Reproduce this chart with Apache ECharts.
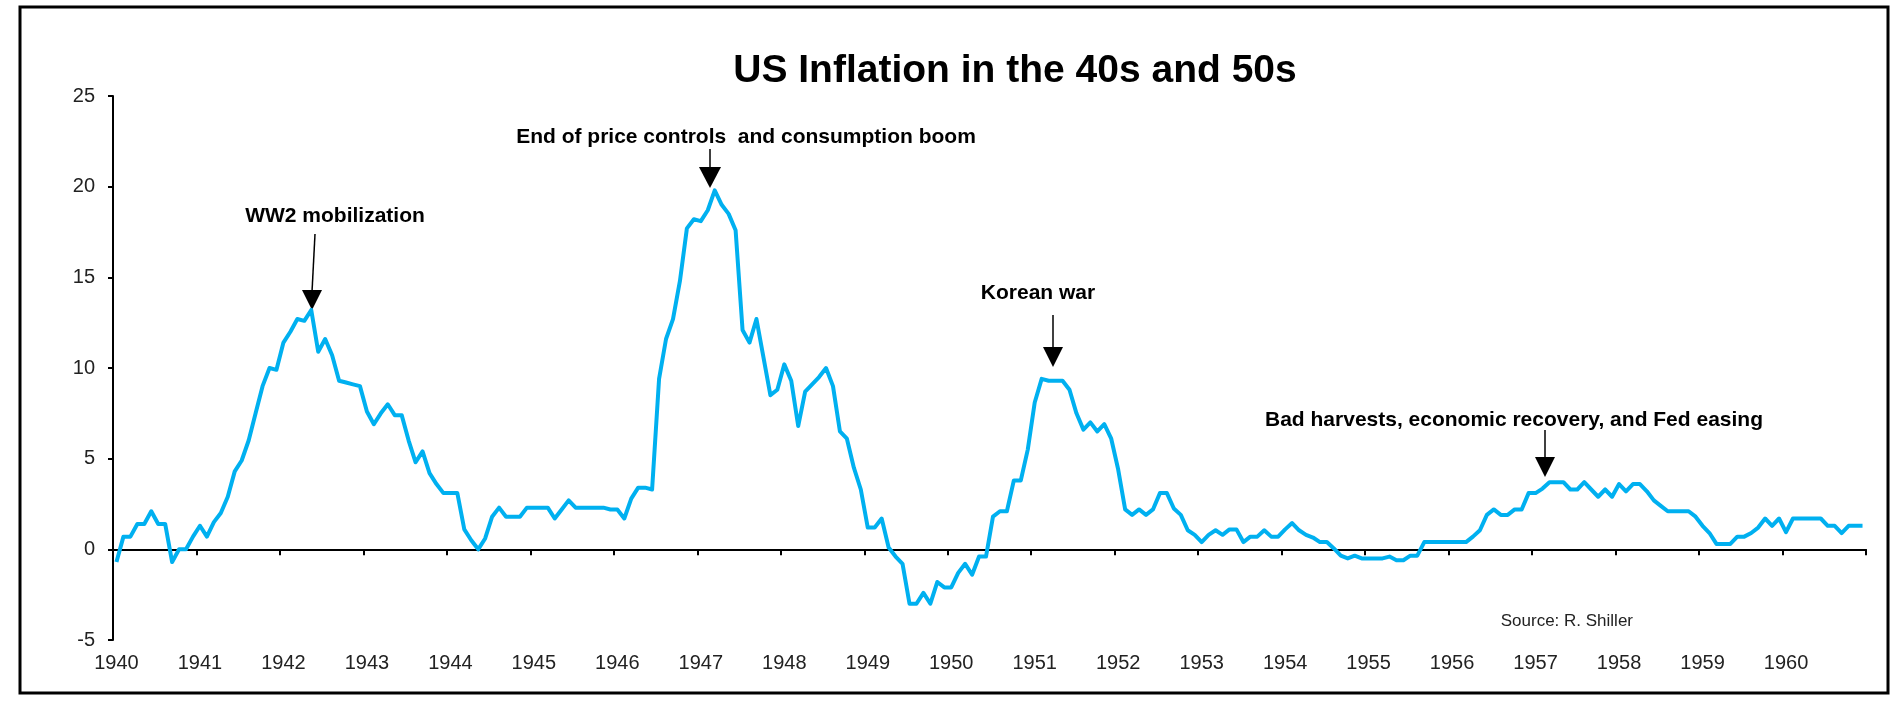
<!DOCTYPE html>
<html>
<head>
<meta charset="utf-8">
<script src="https://cdn.jsdelivr.net/npm/echarts@6/dist/echarts.min.js"></script>
<style>
html,body{margin:0;padding:0;background:#fff;}
#chart{width:1904px;height:708px;}
</style>
</head>
<body>
<div id="chart"></div>
<script>
// Year tick labels (one category per month, Jan 1940 .. Dec 1960)
const years = ['1940','1941','1942','1943','1944','1945','1946','1947','1948','1949','1950',
               '1951','1952','1953','1954','1955','1956','1957','1958','1959','1960'];

// Y axis ticks
const yMin = -5, yMax = 25, yStep = 5;

// Monthly US inflation (%), year by year
const inflation = [
  // 1940
  -0.7, 0.7, 0.7, 1.4, 1.4, 2.1, 1.4, 1.4, -0.7, 0.0, 0.0, 0.7,
  // 1941
  1.3, 0.7, 1.5, 2.0, 2.9, 4.3, 4.9, 6.0, 7.5, 9.0, 10.0, 9.9,
  // 1942
  11.4, 12.0, 12.7, 12.6, 13.2, 10.9, 11.6, 10.7, 9.3, 9.2, 9.1, 9.0,
  // 1943
  7.6, 6.9, 7.5, 8.0, 7.4, 7.4, 6.0, 4.8, 5.4, 4.2, 3.6, 3.1,
  // 1944
  3.1, 3.1, 1.1, 0.5, 0.0, 0.6, 1.8, 2.3, 1.8, 1.8, 1.8, 2.3,
  // 1945
  2.3, 2.3, 2.3, 1.7, 2.2, 2.7, 2.3, 2.3, 2.3, 2.3, 2.3, 2.2,
  // 1946
  2.2, 1.7, 2.8, 3.4, 3.4, 3.3, 9.4, 11.6, 12.7, 14.8, 17.7, 18.2,
  // 1947
  18.1, 18.7, 19.8, 19.0, 18.5, 17.6, 12.1, 11.4, 12.7, 10.6, 8.5, 8.8,
  // 1948
  10.2, 9.3, 6.8, 8.7, 9.1, 9.5, 10.0, 9.0, 6.5, 6.1, 4.5, 3.3,
  // 1949
  1.2, 1.2, 1.7, 0.1, -0.4, -0.8, -3.0, -3.0, -2.4, -3.0, -1.8, -2.1,
  // 1950
  -2.1, -1.3, -0.8, -1.4, -0.4, -0.4, 1.8, 2.1, 2.1, 3.8, 3.8, 5.5,
  // 1951
  8.1, 9.4, 9.3, 9.3, 9.3, 8.8, 7.5, 6.6, 7.0, 6.5, 6.9, 6.1,
  // 1952
  4.4, 2.2, 1.9, 2.2, 1.9, 2.2, 3.1, 3.1, 2.25, 1.9, 1.05, 0.8,
  // 1953
  0.4, 0.8, 1.05, 0.8, 1.1, 1.1, 0.4, 0.7, 0.7, 1.05, 0.7, 0.7,
  // 1954
  1.1, 1.45, 1.05, 0.8, 0.65, 0.4, 0.4, 0.05, -0.35, -0.5, -0.35, -0.5,
  // 1955
  -0.5, -0.5, -0.5, -0.4, -0.6, -0.6, -0.35, -0.35, 0.4, 0.4, 0.4, 0.4,
  // 1956
  0.4, 0.4, 0.4, 0.7, 1.05, 1.9, 2.2, 1.9, 1.9, 2.2, 2.2, 3.1,
  // 1957
  3.1, 3.35, 3.7, 3.7, 3.7, 3.3, 3.3, 3.7, 3.3, 2.9, 3.3, 2.9,
  // 1958
  3.6, 3.2, 3.6, 3.6, 3.2, 2.7, 2.4, 2.1, 2.1, 2.1, 2.1, 1.8,
  // 1959
  1.3, 0.9, 0.3, 0.3, 0.3, 0.7, 0.7, 0.9, 1.2, 1.7, 1.3, 1.7,
  // 1960
  0.95, 1.7, 1.7, 1.7, 1.7, 1.7, 1.3, 1.3, 0.9, 1.3, 1.3, 1.3
];

// Text annotations
const titleText = 'US Inflation in the 40s and 50s';
const sourceText = 'Source: R. Shiller';
const notes = [
  {text: 'WW2 mobilization', tx: 335, ty: 216, x1: 315, y1: 234, x2: 312, head: 290, tip: 310, hw: 10},
  {text: 'End of price controls  and consumption boom', tx: 746, ty: 137, x1: 710, y1: 149, x2: 710, head: 167, tip: 188, hw: 11},
  {text: 'Korean war', tx: 1038, ty: 293, x1: 1053, y1: 315, x2: 1053, head: 347, tip: 367, hw: 10},
  {text: 'Bad harvests, economic recovery, and Fed easing', tx: 1514, ty: 420, x1: 1545, y1: 430, x2: 1545, head: 457, tip: 477, hw: 10}
];

const months = [];
years.forEach(y => { for (let m = 1; m <= 12; m++) months.push(y + '-' + (m < 10 ? '0' + m : m)); });

const FONT = "'Liberation Sans', Arial, sans-serif";

const graphics = [
  {type: 'rect', shape: {x: 20, y: 7, width: 1868, height: 686},
   style: {fill: 'transparent', stroke: '#000', lineWidth: 3}, silent: true},
  {type: 'text', x: 1015, y: 71, style: {text: titleText, font: "bold 39px " + FONT, fill: '#000',
   textAlign: 'center', textVerticalAlign: 'middle'}},
  {type: 'text', x: 1633, y: 621, style: {text: sourceText, font: "17px " + FONT, fill: '#222',
   textAlign: 'right', textVerticalAlign: 'middle'}}
];
notes.forEach(n => {
  graphics.push({type: 'text', x: n.tx, y: n.ty, style: {text: n.text, font: "bold 21px " + FONT, fill: '#000',
    textAlign: 'center', textVerticalAlign: 'middle'}});
  graphics.push({type: 'line', shape: {x1: n.x1, y1: n.y1, x2: n.x2, y2: n.head + 2},
    style: {stroke: '#000', lineWidth: 1.5}});
  graphics.push({type: 'polygon', shape: {points: [[n.x2 - n.hw, n.head], [n.x2 + n.hw, n.head], [n.x2, n.tip]]},
    style: {fill: '#000'}});
});

const chart = echarts.init(document.getElementById('chart'), null, {renderer: 'canvas'});
chart.setOption({
  animation: false,
  backgroundColor: '#fff',
  grid: {left: 113, right: 38, top: 96, bottom: 68, containLabel: false},
  xAxis: [
    {
      type: 'category', data: months, boundaryGap: true,
      axisLine: {show: true, onZero: true, lineStyle: {color: '#000', width: 2}},
      axisTick: {show: true, interval: 11, length: 6, lineStyle: {color: '#000', width: 2}},
      axisLabel: {show: false},
      splitLine: {show: false}
    },
    {
      type: 'category', data: months, boundaryGap: true, position: 'bottom',
      axisLine: {show: false, onZero: false},
      axisTick: {show: false},
      axisLabel: {show: true, interval: 11, margin: 13, color: '#222', fontSize: 20, fontFamily: FONT,
                  formatter: v => v.slice(0, 4)},
      splitLine: {show: false}
    }
  ],
  yAxis: {
    type: 'value', min: yMin, max: yMax, interval: yStep,
    axisLine: {show: true, onZero: false, lineStyle: {color: '#000', width: 2}},
    axisTick: {show: true, length: 5, lineStyle: {color: '#000', width: 2}},
    axisLabel: {color: '#222', fontSize: 20, fontFamily: FONT, margin: 18},
    splitLine: {show: false}
  },
  series: [{
    type: 'line', data: inflation, xAxisIndex: 0, yAxisIndex: 0,
    showSymbol: false, symbol: 'none', smooth: false,
    lineStyle: {color: '#00B0F0', width: 4, join: 'round'},
    z: 3
  }],
  graphic: graphics
});
</script>
</body>
</html>
